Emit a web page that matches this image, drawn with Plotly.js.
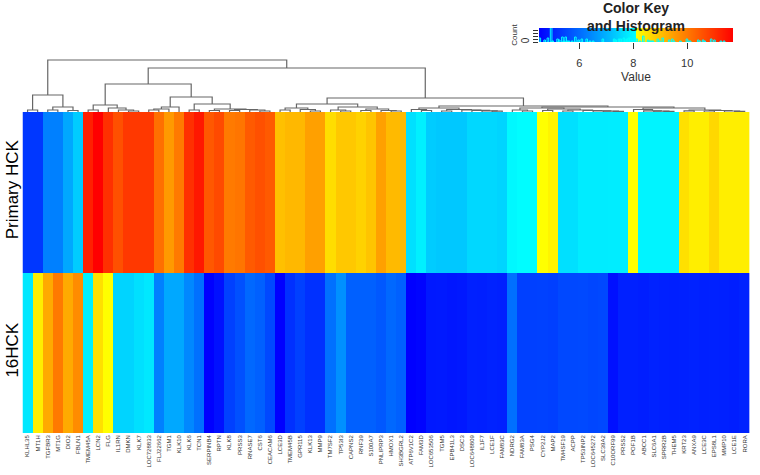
<!DOCTYPE html>
<html><head><meta charset="utf-8">
<script src="https://cdn.plot.ly/plotly-3.0.1.min.js"></script>
<style>html,body{margin:0;padding:0;background:#fff}#chart{width:760px;height:475px}</style>
</head><body><div id="chart"></div>
<script>
// ---- data ----
const genes = ['KLHL35','MT1H','TGFBR3','MT1G','DIO2','FBLN1','TMEM45A','LCN2','FLG','IL1RN','DMKN','KLK7',
 'LOC728833','FLJ22662','TGM1','KLK10','KLK6','TCN1','SERPINB4','RPTN','KLK8','PRSS3','RNASE7','CST6',
 'CEACAM6','LCE3D','TMEM45B','GPR115','KLK13','MMP9','TM7SF2','TP53I3','CAPNS2','RNF39','S100A7','PNLIPRP3',
 'HMOX1','SH3BGRL2','ATP6V1C2','FAM3D','LOC653506','TGM5','EPB41L3','DSC3','LOC648809','IL1F7','LCE1F','FAM83C',
 'NDRG2','FAM83A','PSG4','CYP2J2','MAP2','TM4SF19','ACPP','TP53INP2','LOC645272','SLC39A2','C10ORF99','PRSS2',
 'POF1B','ABCC1','SLC6A1','SPRR2B','THEM5','KRT23','ANXA9','LCE3C','EPS8L1','MMP10','LCE1E','RORA'];
const sampleNames = ['16HCK', 'Primary HCK'];
const primaryHCK = [5.27,5.27,6.28,6.28,6.84,7.34,
 11.25,11.7,11.02,10.57,10.91,10.91,10.91,10.12,9.53,9.98,11.02,11.36,10.46,10.66,9.98,10.05,10.43,10.57,10.43,
 8.99,9.10,9.10,9.44,9.44,8.58,8.88,8.88,8.74,8.93,9.44,9.07,9.07,
 7.62,7.84,7.34,7.28,7.28,7.28,7.51,7.51,7.51,7.45,
 7.95,8.02,8.02,8.10,8.25,7.62,7.62,7.78,7.78,7.78,7.80,7.80,
 8.10,7.90,7.90,7.90,7.90,
 8.54,8.34,8.34,8.65,8.34,8.34,8.34];
const hck16 = [7.73,8.34,9.30,9.98,9.30,9.72,
 7.84,8.54,8.10,7.45,7.45,7.62,7.73,6.28,6.84,6.84,6.39,6.06,4.50,4.72,5.39,5.61,5.95,5.84,5.50,
 4.50,5.17,5.39,5.17,5.17,6.06,6.50,5.84,5.84,5.84,5.73,5.95,5.84,
 4.50,4.55,4.83,4.85,4.80,4.83,4.95,4.93,4.97,4.95,
 6.06,5.39,5.39,5.40,5.38,5.50,5.50,5.52,5.48,5.50,4.72,4.95,
 4.95,4.92,4.97,4.95,4.93,
 4.95,4.98,4.94,4.96,4.95,4.92,4.97];
// column dendrogram: [left, right, mergeHeight]; numbers are leaf (column) positions 1..72
const dendroTree = [
 [[1,2,2],[[3,4,2],[5,6,1.5],5],17],
 [
  [
   [[7,8,2],[9,[10,[11,12,1],2],4],7],
   [[[[13,14,2],15,3],16,5],[[17,18,2],[[19,20,1.5],[[21,22,1.5],[23,[24,25,1],2],2.5],3],8],15],
   28],
  [
   [[[26,27,2],[28,[29,30,1],2.5],4],[[31,[32,33,1],2],[[34,35,1.5],[36,[37,38,1],1.5],3],5],8],
   [
    [[39,[40,41,1.5],2.5],[[42,43,1],[44,[45,[46,[47,48,0.8],1.2],1.6],2],2.5],4],
    [
     [[49,[50,51,1],2],[[52,53,1.5],[[54,55,1],[56,[57,[58,[59,60,0.6],0.9],1.2],1.5],2],3],4],
     [[61,[62,[63,[64,65,0.6],0.9],1.2],2.5],[[66,67,1.2],[[68,69,1],[70,[71,72,0.6],1],1.5],2],4],
     5],
    6],
   14],
  44],
 52];
const keyStops = [4.5, 8.05, 8.1, 11.7];
const keyTicks = [6, 8, 10];
const countTicks = [0, 3, 6, 9, 12];
const countLabels = ['0', '', '', '', ''];

// ---- build ----
const colorscale = [[0,'#0000ff'],[(8.05-4.5)/7.2,'#00ffff'],[(8.1-4.5)/7.2,'#ffff00'],[1,'#ff0000']];
const dx = [], dy = [];
function walk(node){
  if (typeof node === 'number') return {x: node - 1, h: 0};
  const L = walk(node[0]), R = walk(node[1]), h = node[2];
  dx.push(L.x, L.x, R.x, R.x, null); dy.push(L.h, h, h, R.h, null);
  return {x: (L.x + R.x) / 2, h: h};
}
walk(dendroTree);

const traces = [
 {type:'heatmap', x: genes, y: sampleNames, z: [hck16, primaryHCK], colorscale: colorscale,
  zmin: keyStops[0], zmax: keyStops[keyStops.length-1], showscale:false, xaxis:'x', yaxis:'y', hoverinfo:'skip'},
 {type:'scatter', mode:'lines', x: dx, y: dy, xaxis:'x2', yaxis:'y2', line:{color:'#666666', width:1.2}, hoverinfo:'skip'},
 {type:'heatmap', x: keyStops, y:[0,1], z:[keyStops, keyStops], zsmooth:'best', colorscale: colorscale,
  zmin: keyStops[0], zmax: keyStops[keyStops.length-1], showscale:false, xaxis:'x3', yaxis:'y3', hoverinfo:'skip'},
 {type:'histogram', x: primaryHCK.concat(hck16), xaxis:'x3', yaxis:'y4',
  xbins:{start:4.5, end:11.7, size:0.06},
  marker:{color:'rgba(0,0,0,0)', line:{color:'#00ffff', width:1}}, hoverinfo:'skip'}
];

const hx = [22.5/760, 749.7/760];
const layout = {
 width:760, height:475, margin:{l:0,r:0,t:0,b:0}, paper_bgcolor:'#ffffff', plot_bgcolor:'#ffffff',
 showlegend:false, font:{family:'"Liberation Sans", Arial, sans-serif', color:'#000'},
 xaxis:{domain:hx, anchor:'y', tickmode:'array', tickvals:genes, ticktext:genes, tickangle:-90,
  tickfont:{size:6, color:'#333'}, ticks:'', showgrid:false, zeroline:false, showline:false, fixedrange:true},
 yaxis:{domain:[1-433/475, 1-112/475], anchor:'x', tickangle:-90, tickfont:{size:17, color:'#000'},
  ticks:'', showgrid:false, zeroline:false, showline:false, fixedrange:true},
 xaxis2:{domain:hx, anchor:'y2', range:[-0.5, genes.length-0.5], visible:false, fixedrange:true},
 yaxis2:{domain:[1-112/475, 1-58/475], anchor:'x2', range:[0,54], visible:false, fixedrange:true},
 xaxis3:{domain:[539/760, 733/760], anchor:'y3', range:[keyStops[0], keyStops[keyStops.length-1]],
  tickmode:'array', tickvals:keyTicks, ticks:'outside', ticklen:6, tickcolor:'#333', tickwidth:1,
  ticklabelstandoff:5, tickfont:{size:11, color:'#333'}, showgrid:false, zeroline:false, showline:false,
  title:{text:'Value', font:{size:12, color:'#333'}, standoff:4}, fixedrange:true},
 yaxis3:{domain:[1-42/475, 1-28/475], anchor:'x3', range:[0,1], visible:false, fixedrange:true},
 yaxis4:{overlaying:'y3', anchor:'x3', side:'left', range:[0,14], tickmode:'array', tickvals:countTicks,
  ticktext:countLabels, ticks:'outside', ticklen:5, tickcolor:'#333', tickangle:-90,
  tickfont:{size:10, color:'#333'}, showgrid:false, zeroline:false, showline:false,
  title:{text:'Count', font:{size:8, color:'#333'}, standoff:1}, fixedrange:true},
 annotations:[{text:'<b>Color Key</b><br><b>and Histogram</b>', xref:'paper', yref:'paper',
  x:636/760, y:1-17/475, xanchor:'center', yanchor:'middle', showarrow:false,
  font:{size:14, color:'#222'}}]
};
Plotly.newPlot('chart', traces, layout, {displayModeBar:false, staticPlot:true});
</script>
</body></html>
